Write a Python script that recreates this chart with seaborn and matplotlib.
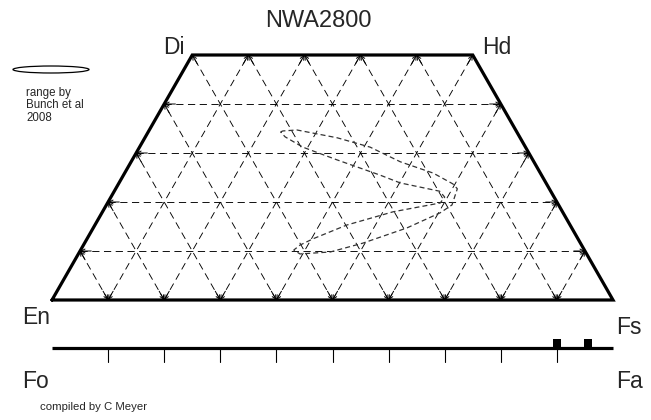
import numpy as np
import pandas as pd
import matplotlib
matplotlib.use("Agg")
import matplotlib.pyplot as plt
from matplotlib.patches import Ellipse
import seaborn as sns

sns.set_style("white")
plt.rcParams['font.family'] = ['Liberation Sans', 'DejaVu Sans']

# range of pyroxene compositions (Bunch et al 2008), in mol% Wo and Fs
range_wo = [34.3, 34.5, 34.7, 33.1, 31.2, 28.2, 25.9, 23.7, 22.7, 19.4, 17.8, 14.7, 11.6, 9.8,
            9.4, 10.2, 11.2, 12.5, 15.3, 18.0, 19.8, 21.0, 22.2, 23.9, 25.5, 28.6, 31.2, 33.3, 34.3]
range_fs = [23.6, 23.9, 26.3, 34.3, 41.1, 48.0, 55.0, 59.6, 60.9, 61.6, 60.3, 55.9, 49.6, 44.7,
            39.5, 38.0, 38.6, 40.3, 44.9, 51.8, 59.3, 59.5, 58.0, 50.1, 45.7, 36.5, 29.1, 24.9, 23.6]

# olivine compositions (Fa mol%)
olivine_fa = [90.0, 95.5]

grid_steps = [10, 20, 30, 40, 50, 60, 70, 80, 90]
wo_levels = [10, 20, 30, 40]
fa_ticks = [10, 20, 30, 40, 50, 60, 70, 80, 90]


def tern(wo, fs):
    # quadrilateral coords: x along En-Fs, y = Wo fraction
    wo = np.asarray(wo) / 100.0
    fs = np.asarray(fs) / 100.0
    return fs + wo / 2, wo


# figure layout (pixel -> data)
W, H = 651, 420
px0, px1, py0, ptop = 52, 613, 300, 55
sx = px1 - px0
sy = (py0 - ptop) / 0.5

fig = plt.figure(figsize=(W / 100, H / 100), dpi=100)
ax = fig.add_axes([0, 0, 1, 1])
ax.set_xlim(-px0 / sx, (W - px0) / sx)
ax.set_ylim(-(H - py0) / sy, py0 / sy)
ax.axis('off')

dash = (0, (8, 5))
gkw = dict(color='black', lw=0.65, linestyle=dash)


def arrowhead(p_end, p_from):
    ax.annotate('', xy=p_end, xytext=(p_end[0] + 0.02 * (p_from[0] - p_end[0]),
                                      p_end[1] + 0.02 * (p_from[1] - p_end[1])),
                arrowprops=dict(arrowstyle='->', lw=0.7, color='black',
                                mutation_scale=7, shrinkA=0, shrinkB=0))


def grid_line(a, b):
    ax.plot([a[0], b[0]], [a[1], b[1]], **gkw)
    ua = np.array(b) - np.array(a)
    ua = ua / np.hypot(ua[0], ua[1])
    arrowhead(a, (a[0] + ua[0], a[1] + ua[1]))
    arrowhead(b, (b[0] - ua[0], b[1] - ua[1]))


# horizontal Wo lines
for w in wo_levels:
    grid_line(tern(w, 0), tern(w, 100 - w))

# constant Fs lines and constant En lines
for k in grid_steps:
    top = min(50, 100 - k)
    grid_line(tern(0, k), tern(top, k))
    grid_line(tern(0, 100 - k), tern(top, 100 - k - top))

# quadrilateral outline
corner_wo = [0, 0, 50, 50, 0]
corner_fs = [0, 100, 50, 0, 0]
cx, cy = tern(corner_wo, corner_fs)
ax.plot(cx, cy, color='black', lw=2.3, solid_joinstyle='miter')

# Bunch et al range
rx, ry = tern(range_wo, range_fs)
df = pd.DataFrame({'x': rx, 'y': ry, 'order': np.arange(len(rx))})
sns.lineplot(data=df, x='x', y='y', sort=False, estimator=None, ax=ax,
             color='#333333', lw=0.9, linestyle=(0, (4, 2.5)))

# olivine line
oy = -(348 - py0) / sy
tick_len = 14 / sy
ax.plot([0, 1], [oy, oy], color='black', lw=2.3, solid_capstyle='butt')
for t in fa_ticks:
    ax.plot([t / 100, t / 100], [oy, oy - tick_len], color='black', lw=0.8)
ol = pd.DataFrame({'x': np.array(olivine_fa) / 100, 'y': oy + 5.5 / sy})
sns.scatterplot(data=ol, x='x', y='y', marker='s', s=30, color='black',
                edgecolor='black', linewidth=0, ax=ax)

# legend ellipse
ax.add_patch(Ellipse(((51 - px0) / sx, (py0 - 69.5) / sy), 76 / sx, 7 / sy,
                     fill=False, edgecolor='black', lw=0.9))


def ptext(x, y, s, size, **kw):
    fig.text(x / W, 1 - y / H, s, fontsize=size, ha='center', va='center', **kw)


ptext(318, 21, 'NWA2800', 17)
ptext(174, 47, 'Di', 16.5)
ptext(497, 47, 'Hd', 16.5)
ptext(36, 318, 'En', 16.5)
ptext(629, 327, 'Fs', 16.5)
ptext(35, 381, 'Fo', 16.5)
ptext(630, 381, 'Fa', 16.5)
fig.text(26 / W, 1 - 87 / H, 'range by\nBunch et al\n2008', fontsize=8.3,
         ha='left', va='top', linespacing=1.05)
fig.text(40 / W, 1 - 407 / H, 'compiled by C Meyer', fontsize=8.2,
         ha='left', va='center')

fig.savefig('out.png', dpi=100)
